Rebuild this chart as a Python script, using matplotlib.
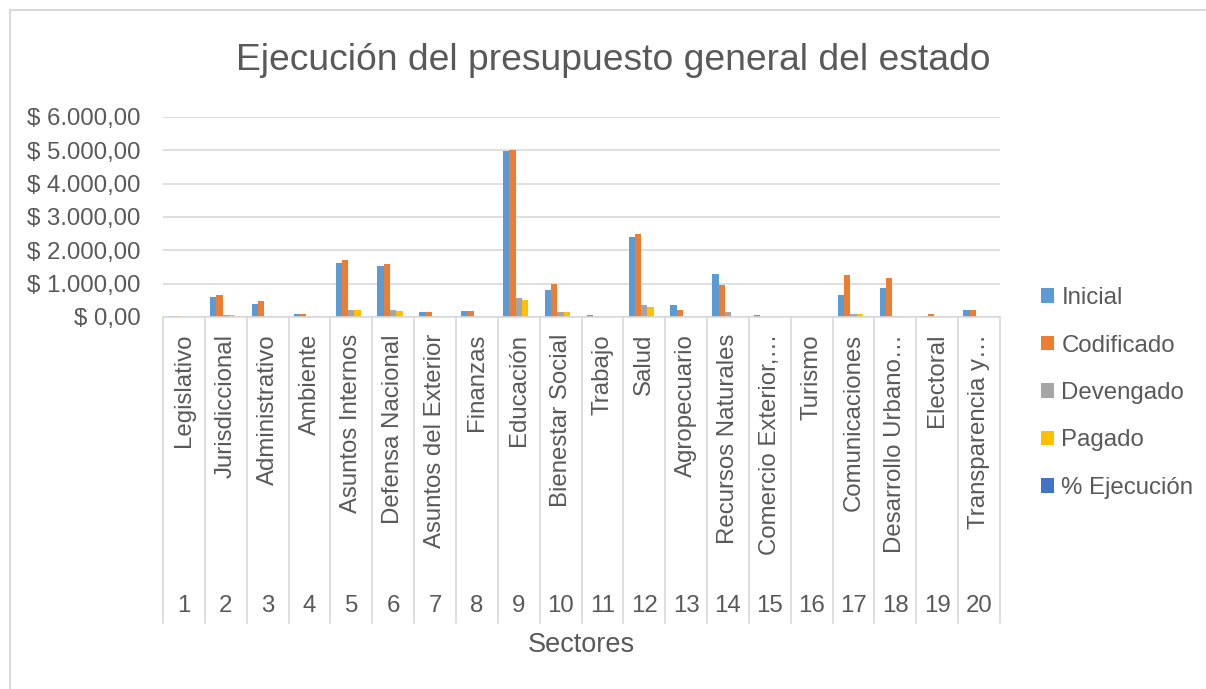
import matplotlib
matplotlib.use("Agg")
import matplotlib.pyplot as plt
import matplotlib.transforms as mtransforms
from matplotlib.patches import Rectangle, Patch
import numpy as np

plt.rcParams['font.family'] = ['Liberation Sans', 'DejaVu Sans']

sectores = ["Legislativo", "Jurisdiccional", "Administrativo", "Ambiente",
            "Asuntos Internos", "Defensa Nacional", "Asuntos del Exterior",
            "Finanzas", "Educación", "Bienestar Social", "Trabajo", "Salud",
            "Agropecuario", "Recursos Naturales", "Comercio Exterior,…",
            "Turismo", "Comunicaciones", "Desarrollo Urbano…", "Electoral",
            "Transparencia y…"]
numeros = [str(i) for i in range(1, 21)]

inicial    = [40, 600, 390, 90, 1620, 1540, 140, 180, 4990, 810, 50, 2400, 350, 1290, 50, 0, 650, 860, 40, 220]
codificado = [40, 650, 470, 90, 1700, 1590, 140, 180, 5000, 980, 0, 2480, 220, 950, 0, 0, 1250, 1160, 90, 220]
devengado  = [0, 50, 0, 0, 220, 220, 0, 0, 560, 140, 0, 350, 0, 140, 0, 0, 90, 40, 0, 0]
pagado     = [0, 50, 0, 0, 220, 180, 0, 0, 510, 140, 0, 300, 0, 0, 0, 0, 90, 0, 0, 0]
ejecucion  = [0.9, 0.9, 0.9, 0.9, 0.9, 0.9, 0.9, 0.9, 0.9, 0.9, 0.9, 0.9, 0.9, 0.9, 0.9, 0.9, 0.9, 0.9, 0.9, 0.9]

series_names = ["Inicial", "Codificado", "Devengado", "Pagado", "% Ejecución"]
series_vals = [inicial, codificado, devengado, pagado, ejecucion]
colors = ["#5B9BD5", "#ED7D31", "#A5A5A5", "#FFC000", "#4472C4"]
yticks = [0, 1000, 2000, 3000, 4000, 5000, 6000]
ytick_labels = ["$ 0,00", "$ 1.000,00", "$ 2.000,00", "$ 3.000,00",
                "$ 4.000,00", "$ 5.000,00", "$ 6.000,00"]

W, H = 1206, 689
fig = plt.figure(figsize=(W / 100, H / 100), dpi=100)
fig.patch.set_facecolor("white")

# chart outer frame (cut off on right/bottom like the reference)
fig.add_artist(Rectangle((10 / W, -0.05), 1.2, 1 - 10 / H + 0.05,
                         transform=fig.transFigure, fill=False,
                         edgecolor="#d9d9d9", linewidth=1.5))

left, right, top, bottom = 163, 1000, 117, 317
ax = fig.add_axes([left / W, 1 - bottom / H, (right - left) / W, (bottom - top) / H])

n = len(sectores)
x = np.arange(n)
bw = 0.15
for k, (name, vals, c) in enumerate(zip(series_names, series_vals, colors)):
    ax.bar(x + (k - 2) * bw, vals, width=bw, color=c, label=name, zorder=3)

ax.set_xlim(-0.5, n - 0.5)
ax.set_ylim(0, 6000)
ax.set_yticks(yticks)
ax.set_yticklabels(ytick_labels)
ax.tick_params(axis='y', length=0, pad=16, labelsize=17.3, labelcolor="#595959")
ax.set_xticks([])
ax.yaxis.grid(True, color="#d9d9d9", linewidth=1.2, zorder=0)
for s in ["top", "right", "left"]:
    ax.spines[s].set_visible(False)
ax.spines["bottom"].set_color("#d9d9d9")
ax.spines["bottom"].set_linewidth(1.2)
ax.spines["bottom"].set_zorder(4)

# multi-level category axis
trans = mtransforms.blended_transform_factory(ax.transData, ax.transAxes)
ax_h = bottom - top
y_sep_end = -(623 - bottom) / ax_h
for b in np.arange(-0.5, n, 1.0):
    ax.plot([b, b], [0, y_sep_end], transform=trans, color="#d9d9d9",
            linewidth=1.2, clip_on=False)

y_lab = -(334 - bottom) / ax_h
y_num = -(606 - bottom) / ax_h
for i in range(n):
    ax.text(i, y_lab, sectores[i], transform=trans, rotation=90,
            ha="center", va="top", fontsize=17.3, color="#595959")
    ax.text(i, y_num, numeros[i], transform=trans, ha="center",
            va="center", fontsize=17.3, color="#595959")

fig.text((left + right) / 2 / W, 1 - 645 / H, "Sectores", ha="center",
         va="center", fontsize=19.5, color="#595959")

fig.text(613 / W, 1 - 60 / H, "Ejecución del presupuesto general del estado",
         ha="center", va="center", fontsize=26.8, color="#595959")

handles = [Patch(facecolor=c, edgecolor="none") for c in colors]
fig.legend(handles, series_names, loc="center left",
           bbox_to_anchor=(1041 / W, 1 - 393 / H), frameon=False,
           fontsize=17.3, labelcolor="#595959", handlelength=0.55,
           handleheight=0.55, handletextpad=0.3, labelspacing=1.06,
           borderaxespad=0, borderpad=0)

fig.savefig("out.png", dpi=100, facecolor="white")
